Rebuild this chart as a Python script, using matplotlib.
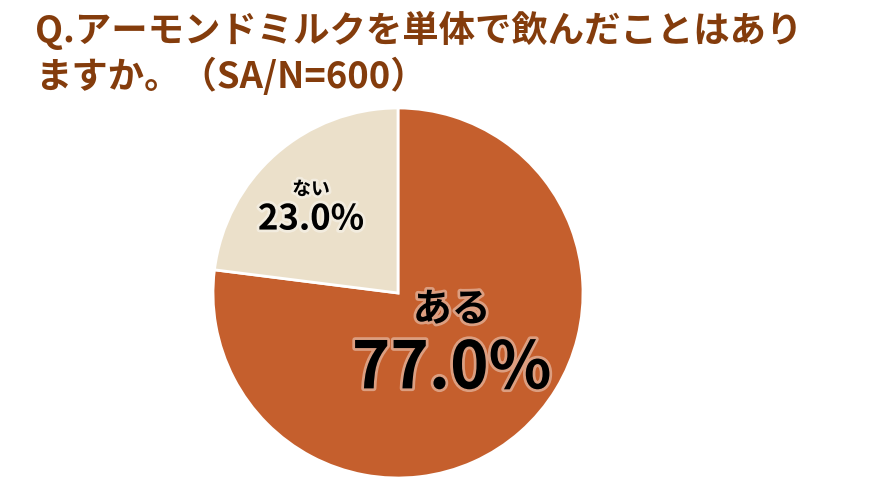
import matplotlib.pyplot as plt
import matplotlib.patheffects as pe

plt.rcParams['font.family'] = ['Noto Sans CJK JP', 'DejaVu Sans']

labels = ['ある', 'ない']
values = [77.0, 23.0]
colors = ['#C55F2D', '#EBE0CA']
title = 'Q.アーモンドミルクを単体で飲んだことはあり\nますか。（SA/N=600）'

W, H = 876, 496
fig = plt.figure(figsize=(W / 100, H / 100), dpi=100)

# pie axes: center (398, 293), radius 185 px
cx, cy, r = 398, 293, 185
ax = fig.add_axes([(cx - r) / W, (H - cy - r) / H, 2 * r / W, 2 * r / H])
ax.pie(values, colors=colors, startangle=90, counterclock=False,
       wedgeprops=dict(edgecolor='white', linewidth=2))
ax.set_aspect('equal')
ax.set_xlim(-1, 1)
ax.set_ylim(-1, 1)
ax.axis('off')

glow = [pe.withStroke(linewidth=4, foreground='white', alpha=0.4)]

# ある 77.0%
ax.text(0.29, -0.09, labels[0], ha='center', va='center', fontsize=28,
        fontweight='bold', path_effects=glow)
ax.text(0.29, -0.41, f'{values[0]:.1f}%', ha='center', va='center', fontsize=47,
        fontweight='bold', path_effects=glow)

# ない 23.0%
ax.text(-0.47, 0.56, labels[1], ha='center', va='center', fontsize=13.5,
        fontweight='bold', path_effects=glow)
ax.text(-0.47, 0.40, f'{values[1]:.1f}%', ha='center', va='center', fontsize=25,
        fontweight='bold', path_effects=glow)

fig.text(35 / W, 1 - 11 / H, title, ha='left', va='top', fontsize=26.2,
         fontweight='bold', color='#843C0C', linespacing=1.25)

fig.savefig('out.png', dpi=100)
